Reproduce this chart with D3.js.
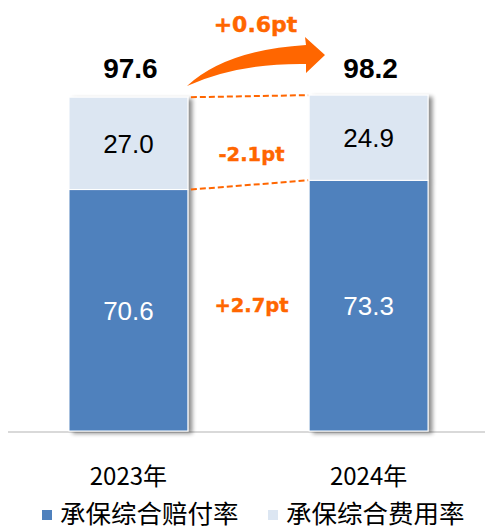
<!DOCTYPE html>
<html>
<head>
<meta charset="utf-8">
<script src="https://cdn.jsdelivr.net/npm/d3@7"></script>
<style>
  body { margin: 0; background: #fff; }
  svg { display: block; }
</style>
</head>
<body>
<div id="chart"></div>
<script>
// Data
const categories = ["2023年", "2024年"];
const claimRatio = [70.6, 73.3];     // 承保综合赔付率
const expenseRatio = [27.0, 24.9];   // 承保综合费用率
const totalRatio = [97.6, 98.2];
const changeLabels = ["+0.6pt", "-2.1pt", "+2.7pt"];
const seriesNames = ["承保综合赔付率", "承保综合费用率"];

const colors = { claim: "#4F81BD", expense: "#DCE6F2", accent: "#FF6600" };

const width = 485, height = 529;

const svg = d3.select("#chart")
    .append("svg")
    .attr("width", width)
    .attr("height", height);

// Shadow filter for bars
const defs = svg.append("defs");
const shadow = defs.append("filter")
    .attr("id", "shadow")
    .attr("x", "-10%").attr("y", "-10%")
    .attr("width", "130%").attr("height", "130%");
shadow.append("feGaussianBlur").attr("in", "SourceAlpha").attr("stdDeviation", 2);
shadow.append("feOffset").attr("dx", 4).attr("dy", 2).attr("result", "off");
shadow.append("feComponentTransfer").append("feFuncA").attr("type", "linear").attr("slope", 0.45);
const merge = shadow.append("feMerge");
merge.append("feMergeNode");
merge.append("feMergeNode").attr("in", "SourceGraphic");

// Scales
const x = d3.scaleBand()
    .domain(categories)
    .range([69, 428])
    .paddingInner(0.505)
    .paddingOuter(0);

const y = d3.scaleLinear()
    .domain([0, 100])
    .range([431, 89]);

// Baseline
svg.append("line")
    .attr("x1", 8).attr("x2", width)
    .attr("y1", y(0) + 1).attr("y2", y(0) + 1)
    .attr("stroke", "#D9D9D9")
    .attr("stroke-width", 2);

// Stacked bars
const rows = categories.map((c, i) => ({
    cat: c, claim: claimRatio[i], expense: expenseRatio[i], total: totalRatio[i]
}));

const barG = svg.selectAll(".bar")
    .data(rows)
    .enter()
    .append("g")
    .attr("class", "bar")
    .attr("filter", "url(#shadow)");

barG.append("rect")
    .attr("x", d => x(d.cat))
    .attr("width", x.bandwidth())
    .attr("y", d => y(d.claim))
    .attr("height", d => y(0) - y(d.claim))
    .attr("fill", colors.claim)
    .attr("stroke", "#fff")
    .attr("stroke-width", 1);

barG.append("rect")
    .attr("x", d => x(d.cat))
    .attr("width", x.bandwidth())
    .attr("y", d => y(d.claim + d.expense))
    .attr("height", d => y(d.claim) - y(d.claim + d.expense))
    .attr("fill", colors.expense)
    .attr("stroke", "#fff")
    .attr("stroke-width", 1);

// Segment labels
svg.selectAll(".claim-label")
    .data(rows)
    .enter()
    .append("text")
    .attr("x", d => x(d.cat) + x.bandwidth() / 2)
    .attr("y", d => (y(0) + y(d.claim)) / 2)
    .attr("dy", "0.36em")
    .attr("text-anchor", "middle")
    .style("font-family", "'Liberation Sans', Arial, sans-serif")
    .style("font-size", "26px")
    .style("fill", "#fff")
    .text(d => d.claim.toFixed(1));

svg.selectAll(".expense-label")
    .data(rows)
    .enter()
    .append("text")
    .attr("x", d => x(d.cat) + x.bandwidth() / 2)
    .attr("y", d => (y(d.claim) + y(d.claim + d.expense)) / 2)
    .attr("dy", "0.36em")
    .attr("text-anchor", "middle")
    .style("font-family", "'Liberation Sans', Arial, sans-serif")
    .style("font-size", "26px")
    .style("fill", "#000")
    .text(d => d.expense.toFixed(1));

// Totals
svg.selectAll(".total-label")
    .data(rows)
    .enter()
    .append("text")
    .attr("x", d => x(d.cat) + x.bandwidth() / 2 + 2)
    .attr("y", 78)
    .attr("text-anchor", "middle")
    .style("font-family", "'Liberation Sans', Arial, sans-serif")
    .style("font-size", "28px")
    .style("font-weight", "bold")
    .style("fill", "#000")
    .text(d => d.total.toFixed(1));

// Dashed connectors
const xL = x(categories[0]) + x.bandwidth() + 3;
const xR = x(categories[1]) - 1;
const connectors = [
    [y(totalRatio[0]), y(totalRatio[1])],
    [y(claimRatio[0]), y(claimRatio[1])]
];
svg.selectAll(".connector")
    .data(connectors)
    .enter()
    .append("line")
    .attr("x1", xL).attr("x2", xR)
    .attr("y1", d => d[0]).attr("y2", d => d[1])
    .attr("stroke", colors.accent)
    .attr("stroke-width", 2)
    .attr("stroke-dasharray", "6,3");

// Curved arrow
svg.append("path")
    .attr("d", "M187,86 Q226,50 306,45 L305,37 L325,55 L306,73 L306,64 Q238,63 187,86 Z")
    .attr("fill", colors.accent);

// Change labels
const midX = (x(categories[0]) + x.bandwidth() + x(categories[1])) / 2;
const changeY = [32, 161, 312];
const changeSize = [22, 19.5, 19.5];
svg.selectAll(".change-label")
    .data(changeLabels)
    .enter()
    .append("text")
    .attr("x", (d, i) => i === 0 ? midX + 7 : midX + 3)
    .attr("y", (d, i) => changeY[i])
    .attr("text-anchor", "middle")
    .style("font-family", "'DejaVu Sans', sans-serif")
    .style("font-weight", "bold")
    .style("font-size", (d, i) => changeSize[i] + "px")
    .style("fill", colors.accent)
    .style("stroke", colors.accent)
    .style("stroke-width", 0.4)
    .text(d => d);

// X axis labels
svg.selectAll(".x-label")
    .data(categories)
    .enter()
    .append("text")
    .attr("x", d => x(d) + x.bandwidth() / 2)
    .attr("y", 485)
    .attr("text-anchor", "middle")
    .style("font-family", "'Noto Sans CJK SC', sans-serif")
    .style("font-size", "24px")
    .style("fill", "#000")
    .text(d => d);

// Legend
const legendX = [42, 268];
const legendColors = [colors.claim, colors.expense];
const legend = svg.selectAll(".legend")
    .data(seriesNames)
    .enter()
    .append("g")
    .attr("transform", (d, i) => `translate(${legendX[i]}, 510)`);

legend.append("rect")
    .attr("width", 10)
    .attr("height", 10)
    .attr("fill", (d, i) => legendColors[i]);

legend.append("text")
    .attr("x", 18)
    .attr("y", 13)
    .style("font-family", "'Noto Sans CJK SC', sans-serif")
    .style("font-size", "25.5px")
    .style("fill", "#000")
    .text(d => d);
</script>
</body>
</html>
